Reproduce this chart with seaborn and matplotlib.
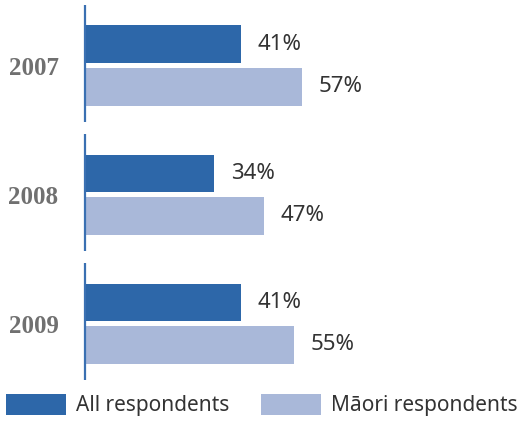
import matplotlib
matplotlib.use("Agg")
import matplotlib.pyplot as plt
import seaborn as sns
import pandas as pd

# Survey results by year
years = ["2007", "2008", "2009"]
groups = ["All respondents", "Māori respondents"]
all_respondents = [41, 34, 41]
maori_respondents = [57, 47, 55]

colors = ["#2D67A9", "#A9B8D9"]
label_font = "Noto Sans"
value_size = 16
legend_size = 15

df = pd.DataFrame({
    "year": years * 2,
    "group": [groups[0]] * len(years) + [groups[1]] * len(years),
    "value": all_respondents + maori_respondents,
})

sns.set_theme(style="white")
plt.rcParams["font.family"] = [label_font, "DejaVu Sans"]

fig = plt.figure(figsize=(5.2, 4.23), dpi=100)
ax = fig.add_axes([85 / 520, 45 / 423, 435 / 520, 373 / 423])

sns.barplot(
    data=df, x="value", y="year", hue="group", orient="h",
    palette=colors, width=0.66, gap=0.12, saturation=1,
    edgecolor="none", linewidth=0, ax=ax, legend=True,
)

ax.set_xlim(0, 435 / 3.8)
ax.set_ylim(2.422, -0.469)

# Value labels at the end of each bar
for container in ax.containers:
    vals = [int(round(b.get_width())) for b in container]
    ax.bar_label(container, labels=[f"{v}%" for v in vals], padding=12,
                 fontsize=value_size, color="#333333", fontweight="light")

# Segmented baseline, one piece per year
for i in range(len(years)):
    ax.plot([0, 0], [i - 0.47, i + 0.44], color="#3A70B2", lw=1.6,
            solid_capstyle="butt", clip_on=False)

for s in ax.spines.values():
    s.set_visible(False)
ax.set_xticks([])
ax.set_xlabel("")
ax.set_ylabel("")
ax.tick_params(axis="y", length=0, pad=19)
for lab in ax.get_yticklabels():
    lab.set_fontfamily("Liberation Serif")
    lab.set_fontweight("bold")
    lab.set_fontsize(18)
    lab.set_color("#707070")

handles, labels = ax.get_legend_handles_labels()
ax.legend_.remove()
fs_px = legend_size * 100 / 72
fig.legend(handles, labels, loc="center left",
           bbox_to_anchor=(6 / 520, 18 / 423), ncol=2, frameon=False,
           borderpad=0, borderaxespad=0,
           handlelength=60 / fs_px, handleheight=24 / fs_px,
           handletextpad=10 / fs_px, columnspacing=32 / fs_px,
           prop={"family": label_font, "size": legend_size, "weight": "light"},
           labelcolor="#333333")

fig.savefig("out.png", dpi=100)
